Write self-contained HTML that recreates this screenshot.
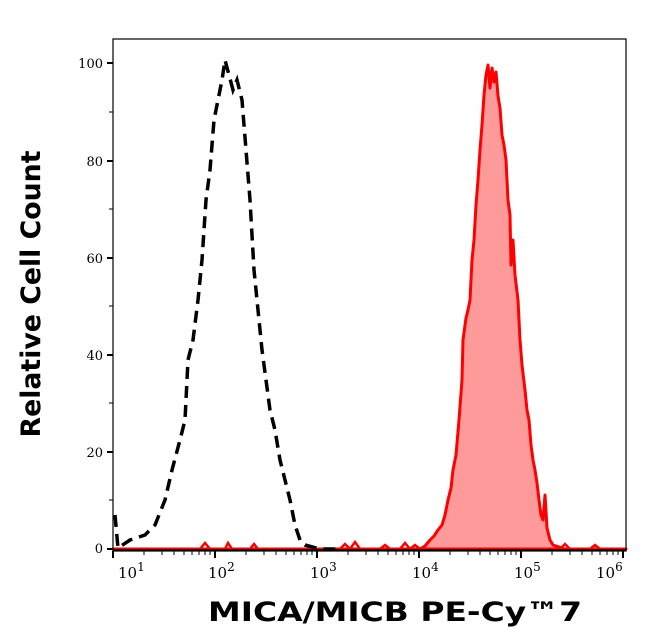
<!DOCTYPE html>
<html><head><style>body{margin:0;background:#fff}svg{display:block}</style></head><body>
<svg width="646" height="641" xmlns="http://www.w3.org/2000/svg" font-family="DejaVu Serif, serif">
<rect width="646" height="641" fill="#fff"/>
<path d="M113,549 L420,549 L425,546 L430,540 L434,536 L438,530 L442,525 L445,515 L448,500 L451,488 L453,470 L456,455 L459,420 L462,380 L463,340 L466,318 L468,310 L470,300 L472,260 L474,240 L476,205 L478,180 L480,150 L482,125 L484,95 L486,75 L488,65 L490,88 L492,68 L494,82 L496,72 L498,96 L500,108 L502,135 L504,145 L506,160 L508,200 L510,215 L511,265 L513,240 L515,275 L518,300 L520,340 L522,365 L525,390 L527,410 L529,420 L531,445 L533,460 L535,470 L537,483 L539,500 L541,515 L543,520 L545,495 L547,528 L550,540 L553,545 L556,546 L565,549 L626,549 Z" fill="#ff9a9a" stroke="#f00" stroke-width="3" stroke-linejoin="round"/>
<path d="M200,549 L205,543 L210,549 L225,549 L228,543 L232,549 L250,549 L254,544 L258,549 L340,549 L345,544 L350,549 L355,542 L360,549 L380,549 L385,545 L390,549 L400,549 L405,543 L410,549 L415,545 L420,549 L560,549 L565,544 L570,549 L590,549 L595,545 L600,549" fill="none" stroke="#f00" stroke-width="2.5"/>
<path d="M115,515 L118,548 L130,540 L145,535 L155,525 L165,500 L172,470 L180,440 L185,420 L188,360 L193,340 L198,300 L202,260 L206,200 L210,170 L214,120 L218,100 L222,80 L225,60 L229,75 L233,90 L237,80 L242,100 L246,150 L250,200 L254,270 L258,310 L262,350 L266,380 L270,410 L275,430 L280,460 L285,480 L290,500 L295,525 L300,540 L305,545 L320,549 L340,549" fill="none" stroke="#000" stroke-width="3.5" stroke-dasharray="12,7"/>
<rect x="113" y="39" width="513" height="512" fill="none" stroke="#000" stroke-width="1.2"/>
<line x1="113" y1="550" x2="626" y2="550" stroke="#000" stroke-width="1.5"/>
<g stroke="#000" stroke-width="2">
<line x1="107" y1="549" x2="113" y2="549"/><line x1="107" y1="452" x2="113" y2="452"/><line x1="107" y1="355" x2="113" y2="355"/><line x1="107" y1="258" x2="113" y2="258"/><line x1="107" y1="161" x2="113" y2="161"/><line x1="107" y1="63" x2="113" y2="63"/>
</g>
<g stroke="#000" stroke-width="1">
<line x1="109" y1="500" x2="113" y2="500"/><line x1="109" y1="403" x2="113" y2="403"/><line x1="109" y1="306" x2="113" y2="306"/><line x1="109" y1="209" x2="113" y2="209"/><line x1="109" y1="112" x2="113" y2="112"/>
</g>
<g font-size="13" text-anchor="end">
<text x="103" y="553">0</text><text x="103" y="457">20</text><text x="103" y="360">40</text><text x="103" y="263">60</text><text x="103" y="166">80</text><text x="103" y="68">100</text>
</g>
<g stroke="#000" stroke-width="2">
<line x1="113" y1="551" x2="113" y2="558"/><line x1="215" y1="551" x2="215" y2="558"/><line x1="317" y1="551" x2="317" y2="558"/><line x1="419" y1="551" x2="419" y2="558"/><line x1="521" y1="551" x2="521" y2="558"/><line x1="623" y1="551" x2="623" y2="558"/>
</g>
<g stroke="#000" stroke-width="1">
<path d="M144,551v4M162,551v4M174,551v4M184,551v4M192,551v4M199,551v4M205,551v4M210,551v4
M246,551v4M264,551v4M276,551v4M286,551v4M294,551v4M301,551v4M307,551v4M312,551v4
M348,551v4M366,551v4M378,551v4M388,551v4M396,551v4M403,551v4M409,551v4M414,551v4
M450,551v4M468,551v4M480,551v4M490,551v4M498,551v4M505,551v4M511,551v4M516,551v4
M552,551v4M570,551v4M582,551v4M592,551v4M600,551v4M607,551v4M613,551v4M618,551v4"/>
</g>
<g font-size="15">
<text x="118" y="578">10<tspan dy="-7" font-size="12">1</tspan></text>
<text x="208" y="578">10<tspan dy="-7" font-size="12">2</tspan></text>
<text x="310" y="578">10<tspan dy="-7" font-size="12">3</tspan></text>
<text x="412" y="578">10<tspan dy="-7" font-size="12">4</tspan></text>
<text x="514" y="578">10<tspan dy="-7" font-size="12">5</tspan></text>
<text x="596" y="578">10<tspan dy="-7" font-size="12">6</tspan></text>
</g>
<text x="395" y="621" font-family="DejaVu Sans, sans-serif" font-weight="bold" font-size="27" text-anchor="middle" textLength="374" lengthAdjust="spacingAndGlyphs">MICA/MICB PE-Cy™7</text>
<text transform="translate(40,294) rotate(-90)" font-family="DejaVu Sans, sans-serif" font-weight="bold" font-size="27" text-anchor="middle" textLength="287" lengthAdjust="spacingAndGlyphs">Relative Cell Count</text>
</svg>
</body></html>
